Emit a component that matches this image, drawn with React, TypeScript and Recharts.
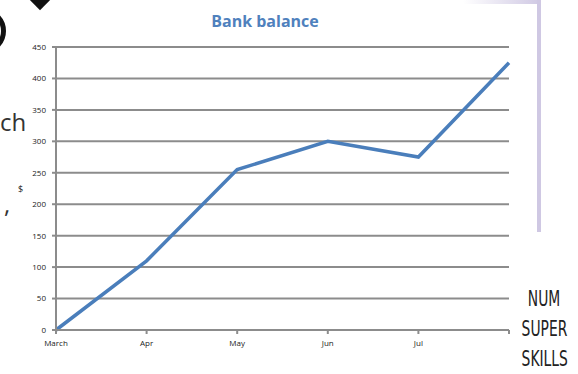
import { LineChart, Line, XAxis, YAxis, CartesianGrid } from "recharts";

const months = ["March", "Apr", "May", "Jun", "Jul", ""];
const balance = [0, 110, 255, 300, 275, 425];
const yTicks = [0, 50, 100, 150, 200, 250, 300, 350, 400, 450];

const data = months.map((m, i) => ({ month: m, balance: balance[i] }));

const tickStyle = { fontSize: 8, fill: "#222", fontFamily: "'Open Sans', sans-serif" };

export default function App() {
  return (
    <div
      style={{
        position: "absolute",
        left: 0,
        top: 0,
        width: 578,
        height: 374,
        background: "#fff",
        overflow: "hidden",
        fontFamily: "'Open Sans', sans-serif",
      }}
    >
      {/* bits of the slide around the chart */}
      <div
        style={{
          position: "absolute",
          left: 463,
          top: 0,
          width: 78,
          height: 4,
          background: "linear-gradient(to right, #ffffff, #cfc8e3)",
        }}
      />
      <div style={{ position: "absolute", left: 537, top: 0, width: 4, height: 232, background: "#cfc8e3" }} />
      <div
        style={{
          position: "absolute",
          left: 30,
          top: -14,
          width: 20,
          height: 20,
          background: "#111",
          transform: "rotate(45deg)",
        }}
      />
      <div
        style={{
          position: "absolute",
          left: -40,
          top: 8,
          width: 46,
          height: 46,
          borderRadius: "50%",
          border: "5px solid #111",
          boxSizing: "border-box",
        }}
      />
      <div style={{ position: "absolute", left: 0, top: 110, fontSize: 24, color: "#333", lineHeight: 1 }}>ch</div>
      <div style={{ position: "absolute", left: 4, top: 192, fontSize: 24, color: "#333", lineHeight: 1 }}>,</div>
      <div
        style={{
          position: "absolute",
          left: 512,
          top: 284,
          width: 64,
          textAlign: "center",
          fontFamily: "'DejaVu Sans Condensed', 'Liberation Sans Narrow', sans-serif",
          fontSize: 22,
          lineHeight: "30px",
          color: "#222",
          transform: "scaleX(0.7)",
        }}
      >
        NUM
        <br />
        SUPER
        <br />
        SKILLS
      </div>

      <div
        style={{
          position: "absolute",
          left: 0,
          top: 10,
          width: 530,
          textAlign: "center",
          fontSize: 16,
          fontWeight: "bold",
          color: "#4f81bd",
          fontFamily: "'Open Sans', sans-serif",
        }}
      >
        Bank balance
      </div>

      <div style={{ position: "absolute", left: 0, top: 0 }}>
        <LineChart
          width={578}
          height={374}
          data={data}
          margin={{ top: 47, right: 69, bottom: 22, left: 16 }}
        >
          <CartesianGrid vertical={false} stroke="#8c8c8c" strokeWidth={2} />
          <XAxis
            dataKey="month"
            interval={0}
            stroke="#8c8c8c"
            strokeWidth={2}
            tickSize={4}
            tickMargin={6}
            tick={tickStyle}
            height={22}
          />
          <YAxis
            domain={[0, 450]}
            ticks={yTicks}
            interval={0}
            width={40}
            stroke="#8c8c8c"
            strokeWidth={2}
            tickSize={4}
            tickMargin={6}
            tick={tickStyle}
            label={{ value: "$", position: "insideLeft", offset: 2, style: { fontSize: 9, fill: "#222" } }}
          />
          <Line
            dataKey="balance"
            type="linear"
            stroke="#4a7ebb"
            strokeWidth={3.5}
            dot={false}
            isAnimationActive={false}
          />
        </LineChart>
      </div>
    </div>
  );
}
